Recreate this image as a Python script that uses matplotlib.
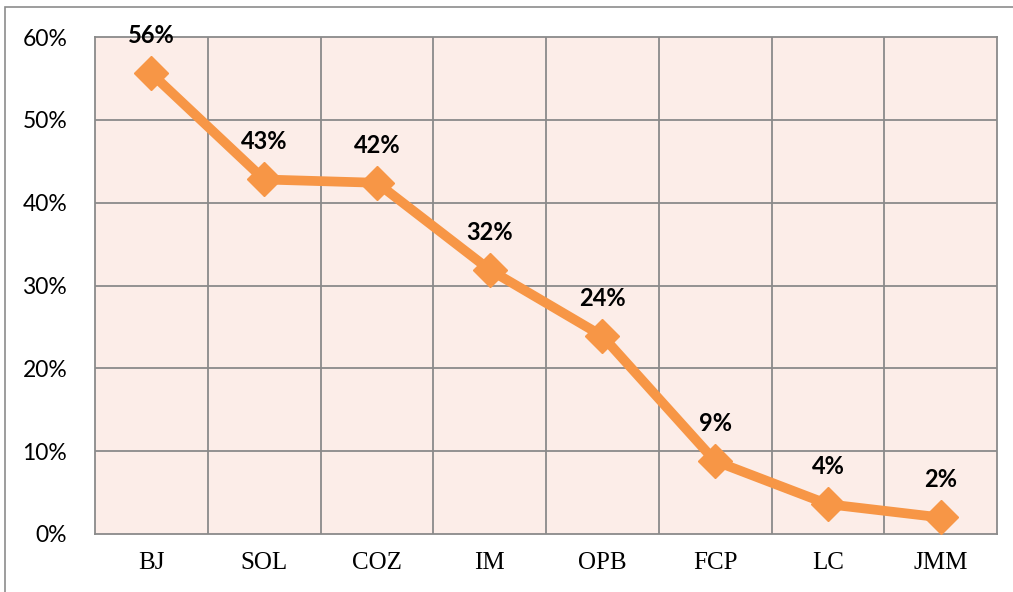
import matplotlib
matplotlib.use("Agg")
import matplotlib.pyplot as plt
from matplotlib.patches import Rectangle
from matplotlib.ticker import PercentFormatter

categories = ["BJ", "SOL", "COZ", "IM", "OPB", "FCP", "LC", "JMM"]
values = [55.6, 42.8, 42.4, 31.9, 23.9, 8.8, 3.6, 2.0]
labels = ["56%", "43%", "42%", "32%", "24%", "9%", "4%", "2%"]
yticks = [0, 10, 20, 30, 40, 50, 60]

fig = plt.figure(figsize=(10.13, 5.92), dpi=100)
fig.patch.set_facecolor("white")
# outer chart frame (extends beyond right/bottom edges)
fig.add_artist(Rectangle((5 / 1013, -0.1), 1.2, 1 - 7 / 592 + 0.1,
                         transform=fig.transFigure, fill=False,
                         edgecolor="#8c8c8c", linewidth=1.2))

ax = fig.add_axes([95 / 1013, 1 - 534 / 592, (997 - 95) / 1013, (534 - 37) / 592])
ax.set_facecolor("#FCEDE8")
x = list(range(len(categories)))
ax.set_xlim(-0.5, len(categories) - 0.5)
ax.set_ylim(0, 60)

for b in [i + 0.5 for i in range(len(categories) - 1)]:
    ax.axvline(b, color="#8a8a8a", linewidth=1.3, zorder=1)
for t in yticks[1:-1]:
    ax.axhline(t, color="#8a8a8a", linewidth=1.3, zorder=1)

ax.plot(x, values, color="#F79646", linewidth=7, marker="D", markersize=17,
        solid_joinstyle="round", zorder=3, clip_on=False)

for xi, v, lab in zip(x, values, labels):
    ax.annotate(lab, (xi, v), xytext=(0, 27), textcoords="offset points",
                ha="center", va="center", fontsize=17, fontweight="bold",
                family="Lato", color="black", zorder=4)

for s in ax.spines.values():
    s.set_color("#8a8a8a")
    s.set_linewidth(1.3)

ax.set_yticks(yticks)
ax.yaxis.set_major_formatter(PercentFormatter(decimals=0))
ax.set_xticks(x)
ax.set_xticklabels(categories, family="Liberation Serif", fontsize=18)
for t in ax.get_yticklabels():
    t.set_family("Lato")
    t.set_fontsize(16.5)
ax.tick_params(axis="both", length=0)
ax.tick_params(axis="y", pad=20)
ax.tick_params(axis="x", pad=13)

fig.savefig("out.png", dpi=100)
